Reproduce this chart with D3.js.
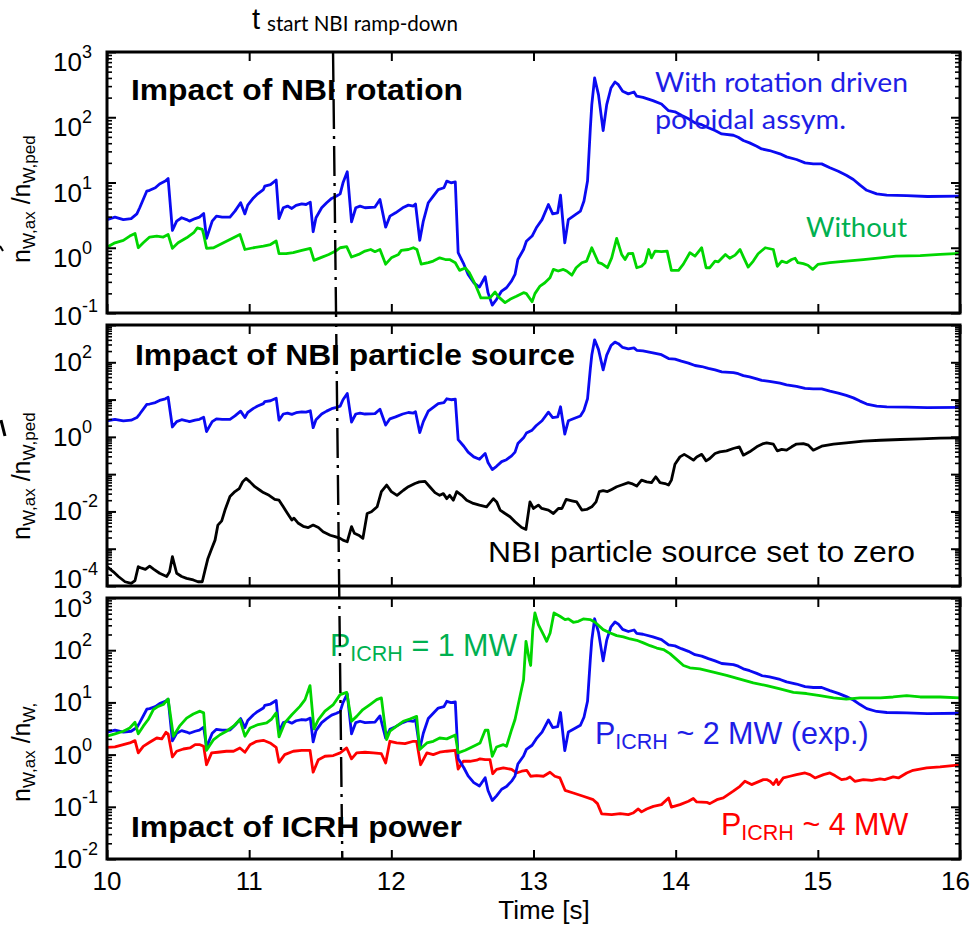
<!DOCTYPE html>
<html><head><meta charset="utf-8">
<script src="https://cdn.jsdelivr.net/npm/d3@7"></script>
<style>body{margin:0;background:#fff} svg{display:block;background:#fff}</style>
</head><body>
<svg id="chart" width="971" height="926"></svg>
<script>
// ---------------- DATA ----------------
const timeTicks = [10, 11, 12, 13, 14, 15, 16];
// experimental case (P_ICRH ~ 2 MW, with rotation driven poloidal asymmetry) - blue in all panels
const seriesExp = [[10.0,2.7],[10.056,2.95],[10.115,2.7],[10.17,2.8],[10.21,3.3],[10.23,4.1],[10.28,7.4],[10.30,7.6],[10.34,8.3],[10.37,9.5],[10.41,10.5],[10.43,11.5],[10.46,1.84],[10.49,2.56],[10.525,2.88],[10.56,2.7],[10.58,2.56],[10.62,2.8],[10.65,2.95],[10.68,3.35],[10.70,1.39],[10.74,2.56],[10.77,3.05],[10.81,2.95],[10.865,2.95],[10.90,3.64],[10.94,4.9],[10.97,3.3],[10.99,4.5],[11.03,5.8],[11.06,6.7],[11.10,7.8],[11.11,8.8],[11.15,9.3],[11.19,10.9],[11.21,2.8],[11.24,4.1],[11.27,4.35],[11.30,4.0],[11.33,4.45],[11.37,4.7],[11.40,4.6],[11.43,5.0],[11.45,1.76],[11.47,2.88],[11.51,4.1],[11.545,4.9],[11.58,5.7],[11.615,6.2],[11.64,6.7],[11.66,9.9],[11.69,14.6],[11.72,2.5],[11.75,4.1],[11.78,4.35],[11.815,4.1],[11.885,4.2],[11.92,5.5],[11.96,2.07],[11.99,3.05],[12.03,3.43],[12.08,4.1],[12.12,4.5],[12.155,4.35],[12.17,4.7],[12.20,1.3],[12.225,2.56],[12.26,4.9],[12.295,6.2],[12.33,7.8],[12.37,8.3],[12.39,10.5],[12.42,9.9],[12.45,10.2],[12.47,0.84],[12.51,0.56],[12.54,0.39],[12.58,0.29],[12.62,0.25],[12.66,0.36],[12.68,0.205],[12.71,0.132],[12.74,0.162],[12.776,0.217],[12.81,0.244],[12.846,0.31],[12.87,0.39],[12.89,0.66],[12.93,0.94],[12.95,1.26],[12.99,1.51],[13.02,2.02],[13.06,2.7],[13.105,4.6],[13.135,3.3],[13.17,3.43],[13.19,6.4],[13.22,1.19],[13.245,2.7],[13.28,3.05],[13.33,3.64],[13.355,5.2],[13.38,10.5],[13.40,69],[13.41,156],[13.43,400],[13.457,222],[13.49,62.5],[13.515,156],[13.545,281],[13.573,347],[13.597,316],[13.627,250],[13.667,228],[13.707,244],[13.726,210],[13.77,202],[13.84,180],[13.90,160],[13.95,126],[13.995,121],[14.04,107],[14.09,95],[14.136,82],[14.183,77],[14.23,69],[14.277,62.5],[14.324,55.6],[14.406,53],[14.44,49.4],[14.476,44],[14.52,40.5],[14.57,36],[14.605,32.7],[14.66,30.9],[14.734,27.5],[14.78,24.7],[14.85,22.5],[14.91,20],[14.968,19.3],[15.027,19.3],[15.085,16.8],[15.144,14.9],[15.20,12.9],[15.25,11.1],[15.297,9.1],[15.344,7.6],[15.414,6.7],[15.485,6.4],[15.625,6.3],[15.77,6.1],[16.0,6.2]];
// without rotation (panel 1, green)
const seriesNoRot = [[10.0,1.02],[10.056,1.19],[10.115,1.3],[10.16,1.51],[10.197,1.66],[10.22,1.0],[10.255,1.19],[10.30,1.46],[10.35,1.51],[10.396,1.46],[10.43,1.6],[10.46,0.98],[10.50,1.19],[10.56,1.42],[10.61,1.7],[10.635,2.02],[10.67,1.91],[10.68,1.6],[10.70,0.98],[10.75,1.0],[10.795,1.12],[10.865,1.34],[10.935,1.6],[10.97,0.94],[11.03,1.0],[11.10,1.06],[11.15,1.12],[11.19,1.27],[11.21,0.81],[11.26,0.81],[11.31,0.84],[11.37,0.91],[11.43,0.98],[11.456,0.64],[11.50,0.70],[11.56,0.79],[11.615,0.91],[11.64,1.0],[11.686,1.04],[11.72,0.72],[11.77,0.79],[11.815,0.89],[11.855,0.94],[11.885,0.87],[11.92,0.94],[11.96,0.56],[12.0,0.70],[12.05,0.79],[12.07,0.91],[12.12,0.94],[12.155,1.0],[12.18,0.94],[12.21,0.56],[12.26,0.59],[12.295,0.625],[12.34,0.70],[12.38,0.66],[12.41,0.66],[12.45,0.59],[12.48,0.45],[12.52,0.49],[12.55,0.41],[12.59,0.275],[12.63,0.17],[12.66,0.17],[12.694,0.17],[12.73,0.21],[12.75,0.18],[12.80,0.144],[12.835,0.162],[12.88,0.18],[12.93,0.205],[12.95,0.198],[12.99,0.149],[13.01,0.198],[13.046,0.259],[13.08,0.291],[13.116,0.347],[13.14,0.466],[13.174,0.44],[13.21,0.466],[13.233,0.44],[13.27,0.38],[13.30,0.494],[13.34,0.59],[13.374,0.625],[13.41,1.0],[13.457,0.59],[13.48,0.57],[13.52,0.494],[13.55,0.70],[13.585,1.39],[13.62,0.79],[13.644,0.66],[13.667,0.81],[13.698,0.82],[13.726,0.494],[13.76,0.52],[13.785,0.59],[13.81,0.94],[13.83,0.70],[13.855,0.89],[13.90,0.87],[13.94,0.89],[13.97,0.45],[14.02,0.45],[14.054,0.56],[14.10,0.84],[14.136,0.745],[14.183,1.0],[14.214,0.494],[14.24,0.494],[14.277,0.625],[14.30,0.61],[14.35,0.79],[14.38,0.69],[14.418,0.77],[14.453,0.94],[14.477,0.72],[14.51,0.506],[14.546,0.625],[14.58,0.81],[14.63,1.0],[14.687,0.94],[14.715,0.52],[14.746,0.625],[14.78,0.59],[14.816,0.66],[14.84,0.69],[14.86,0.59],[14.898,0.57],[14.93,0.54],[14.964,0.466],[15.0,0.555],[15.085,0.59],[15.2,0.625],[15.32,0.66],[15.44,0.70],[15.55,0.745],[15.72,0.76],[15.86,0.79],[16.0,0.82]];
// NBI particle source set to zero (panel 2, black)
const seriesNoSrc = [[10.0,3.3e-4],[10.045,2.4e-4],[10.08,1.8e-4],[10.127,1.3e-4],[10.17,1.17e-4],[10.197,1.4e-4],[10.22,3.3e-4],[10.244,3.0e-4],[10.27,2.8e-4],[10.30,3.4e-4],[10.33,2.8e-4],[10.37,2.2e-4],[10.42,1.8e-4],[10.44,2.4e-4],[10.46,6.1e-4],[10.49,2.2e-4],[10.525,1.8e-4],[10.56,1.6e-4],[10.607,1.45e-4],[10.64,1.3e-4],[10.67,1.3e-4],[10.69,2.7e-4],[10.71,5.5e-4],[10.736,1.0e-3],[10.76,1.7e-3],[10.78,4.3e-3],[10.807,5.6e-3],[10.83,1.09e-2],[10.865,2.5e-2],[10.90,3.4e-2],[10.93,4.1e-2],[10.954,6.2e-2],[10.978,7.7e-2],[11.006,6.2e-2],[11.04,4.6e-2],[11.076,3.7e-2],[11.10,3.2e-2],[11.14,2.7e-2],[11.18,2.1e-2],[11.21,2.0e-2],[11.24,1.33e-2],[11.27,8.8e-3],[11.30,5.9e-3],[11.315,6.6e-3],[11.346,4.8e-3],[11.38,4.0e-3],[11.416,3.7e-3],[11.45,4.3e-3],[11.487,3.7e-3],[11.52,2.85e-3],[11.57,2.3e-3],[11.604,2.1e-3],[11.64,1.9e-3],[11.66,1.7e-3],[11.69,1.54e-3],[11.72,3.9e-3],[11.74,2.6e-3],[11.77,2.3e-3],[11.80,1.9e-3],[11.83,8.8e-3],[11.86,9.8e-3],[11.90,1.33e-2],[11.93,3.4e-2],[11.967,5.1e-2],[12.0,3.4e-2],[12.04,2.7e-2],[12.085,3.7e-2],[12.12,4.6e-2],[12.166,5.6e-2],[12.197,6.2e-2],[12.237,6.4e-2],[12.27,4.6e-2],[12.307,3.2e-2],[12.34,2.7e-2],[12.366,3.0e-2],[12.39,2.2e-2],[12.41,2.7e-2],[12.436,2.0e-2],[12.46,3.4e-2],[12.495,2.7e-2],[12.53,2.0e-2],[12.577,1.64e-2],[12.62,1.48e-2],[12.67,1.33e-2],[12.718,2.2e-2],[12.741,1.8e-2],[12.765,1.09e-2],[12.80,8.8e-3],[12.835,7.2e-3],[12.87,5.3e-3],[12.917,3.7e-3],[12.947,3.3e-3],[12.975,1.8e-2],[13.0,1.2e-2],[13.034,1.48e-2],[13.058,1.2e-2],[13.105,1.09e-2],[13.14,8.8e-3],[13.175,1.2e-2],[13.2,1.2e-2],[13.23,2.1e-2],[13.27,1.93e-2],[13.304,1.8e-2],[13.34,1.09e-2],[13.374,1.13e-2],[13.41,1.33e-2],[13.44,1.8e-2],[13.463,3.4e-2],[13.49,3.6e-2],[13.52,3.4e-2],[13.55,3.9e-2],[13.585,4.6e-2],[13.62,5.1e-2],[13.667,5.9e-2],[13.69,5.6e-2],[13.726,4.8e-2],[13.76,6.9e-2],[13.796,6.2e-2],[13.83,5.9e-2],[13.86,8.5e-2],[13.89,5.9e-2],[13.925,5.6e-2],[13.95,5.1e-2],[13.97,6.9e-2],[13.995,0.185],[14.03,0.29],[14.06,0.34],[14.09,0.29],[14.125,0.237],[14.148,0.29],[14.183,0.34],[14.214,0.227],[14.24,0.263],[14.277,0.358],[14.31,0.396],[14.358,0.42],[14.405,0.487],[14.448,0.54],[14.476,0.323],[14.52,0.396],[14.57,0.54],[14.617,0.66],[14.64,0.69],[14.687,0.64],[14.715,0.42],[14.746,0.46],[14.78,0.44],[14.816,0.54],[14.85,0.64],[14.898,0.66],[14.933,0.6],[14.968,0.44],[15.027,0.56],[15.11,0.64],[15.2,0.69],[15.32,0.77],[15.44,0.81],[15.58,0.85],[15.72,0.88],[15.86,0.92],[16.0,0.94]];
// P_ICRH = 1 MW (panel 3, green)
const seriesP1 = [[10.0,2.25],[10.056,2.5],[10.115,2.8],[10.16,3.24],[10.197,4.16],[10.22,2.5],[10.255,3.5],[10.29,4.7],[10.326,7.3],[10.36,8.4],[10.396,9.1],[10.43,11.6],[10.467,2.25],[10.51,3.5],[10.56,5.0],[10.607,6.0],[10.654,6.8],[10.68,6.3],[10.70,1.21],[10.75,1.94],[10.795,2.4],[10.84,2.8],[10.89,3.5],[10.935,4.7],[10.97,2.25],[11.006,3.24],[11.064,3.76],[11.123,4.04],[11.158,4.8],[11.19,6.3],[11.21,2.18],[11.25,4.04],[11.30,5.8],[11.357,8.4],[11.393,11.3],[11.428,21],[11.456,3.1],[11.487,4.7],[11.533,6.8],[11.592,9.1],[11.64,14.1],[11.686,15.6],[11.72,4.35],[11.756,5.4],[11.80,7.3],[11.85,9.1],[11.897,11.3],[11.93,12.2],[11.967,1.94],[11.99,2.8],[12.037,3.5],[12.084,4.35],[12.13,4.8],[12.178,5.4],[12.20,1.25],[12.25,1.67],[12.295,1.8],[12.34,2.08],[12.39,2.0],[12.45,2.38],[12.47,1.08],[12.52,1.21],[12.553,1.34],[12.60,1.55],[12.624,1.67],[12.66,2.93],[12.68,2.93],[12.71,0.93],[12.74,1.4],[12.788,1.55],[12.81,1.44],[12.846,3.0],[12.87,4.7],[12.905,13.1],[12.93,27],[12.947,148],[12.97,66],[12.98,51],[12.995,248],[13.01,517],[13.034,309],[13.07,199],[13.093,148],[13.117,214],[13.144,517],[13.186,447],[13.222,386],[13.245,397],[13.28,343],[13.316,358],[13.35,397],[13.398,386],[13.433,343],[13.49,248],[13.54,214],[13.585,190],[13.632,180],[13.68,164],[13.726,155],[13.773,138],[13.82,122],[13.867,110],[13.914,103],[13.96,86],[14.008,66],[14.055,51],[14.10,46],[14.17,44],[14.265,38],[14.358,33],[14.452,28],[14.546,23.6],[14.64,21],[14.734,18.1],[14.828,15.6],[14.92,14.8],[15.015,13.5],[15.11,12.2],[15.2,11.6],[15.297,12.2],[15.44,12.2],[15.53,12.7],[15.625,13.5],[15.72,12.7],[15.86,12.7],[16.0,12.2]];
// P_ICRH ~ 4 MW (panel 3, red)
const seriesP4 = [[10.0,1.38],[10.056,1.4],[10.115,1.55],[10.16,1.67],[10.197,1.85],[10.22,1.08],[10.255,1.44],[10.30,1.72],[10.35,2.08],[10.385,2.0],[10.415,2.68],[10.43,2.5],[10.46,0.90],[10.49,1.16],[10.537,1.28],[10.584,1.34],[10.62,1.55],[10.654,1.55],[10.68,1.44],[10.70,0.64],[10.736,1.08],[10.78,1.11],[10.84,1.16],[10.89,1.16],[10.935,1.34],[10.97,1.11],[11.006,1.55],[11.053,1.8],[11.10,1.88],[11.147,1.67],[11.19,1.38],[11.21,0.71],[11.25,1.0],[11.31,1.16],[11.37,1.21],[11.428,1.21],[11.45,0.46],[11.487,0.80],[11.533,0.93],[11.592,0.96],[11.64,1.08],[11.686,1.34],[11.72,0.83],[11.756,1.08],[11.815,1.11],[11.873,1.08],[11.93,1.04],[11.96,0.69],[11.99,1.8],[12.037,1.67],[12.096,1.62],[12.155,1.8],[12.178,1.8],[12.206,0.64],[12.25,1.08],[12.295,1.0],[12.34,1.11],[12.39,1.16],[12.45,1.21],[12.47,0.53],[12.506,0.745],[12.553,0.745],[12.60,0.78],[12.624,0.83],[12.66,0.80],[12.694,0.80],[12.713,0.43],[12.74,0.52],[12.788,0.556],[12.846,0.52],[12.88,0.445],[12.917,0.48],[12.952,0.50],[12.98,0.385],[13.022,0.396],[13.07,0.385],[13.116,0.46],[13.15,0.385],[13.186,0.357],[13.222,0.207],[13.28,0.184],[13.35,0.159],[13.42,0.137],[13.45,0.115],[13.48,0.073],[13.55,0.071],[13.61,0.074],[13.667,0.071],[13.70,0.076],[13.737,0.091],[13.76,0.08],[13.796,0.091],[13.843,0.102],[13.90,0.11],[13.95,0.148],[13.97,0.099],[14.03,0.11],[14.09,0.128],[14.124,0.144],[14.148,0.124],[14.218,0.122],[14.24,0.115],[14.29,0.137],[14.335,0.148],[14.405,0.199],[14.452,0.247],[14.487,0.308],[14.534,0.266],[14.58,0.30],[14.617,0.332],[14.64,0.332],[14.664,0.308],[14.687,0.266],[14.71,0.332],[14.722,0.266],[14.757,0.357],[14.804,0.385],[14.85,0.414],[14.91,0.445],[14.945,0.414],[14.98,0.357],[15.04,0.414],[15.085,0.445],[15.12,0.396],[15.167,0.332],[15.2,0.342],[15.226,0.373],[15.26,0.308],[15.32,0.332],[15.38,0.322],[15.437,0.342],[15.47,0.332],[15.53,0.373],[15.567,0.357],[15.625,0.445],[15.67,0.50],[15.766,0.556],[15.86,0.58],[16.0,0.634]];
const rampDownTimes = [11.59, 11.655];      // t_start NBI ramp-down marker (top, bottom)
const panel1Exponents = [-1, 0, 1, 2, 3];
const panel2Exponents = [-4, -2, 0, 2];
const panel3Exponents = [-2, -1, 0, 1, 2, 3];
const yLabelSubs = [["W,ax", "W,ped"], ["W,ax", "W,ped"], ["W,ax", "W,"]];

// ---------------- STYLE / LAYOUT ----------------
const W = 971;
const ARIAL = "'Liberation Sans', Arial, sans-serif";
const CALI = "Lato, 'Open Sans', sans-serif";
const C = {blue: "#0a0af2", green: "#00d600", red: "#ff0000", black: "#000",
           tBlue: "#1e1ee6", tGreen: "#00b050", tRed: "#ff0000"};
const svg = d3.select("#chart");
const x = d3.scaleLinear().domain([10, 16]).range([107, 960]);
const panels = [
  {top: 52,  bottom: 313, dom: [1e-1, 1e3], exps: panel1Exponents, shift: 10, cTop: 4,  cBot: -3, lab: 263,
   series: [{d: seriesExp, c: C.blue}, {d: seriesNoRot, c: C.green}]},
  {top: 325, bottom: 586, dom: [1e-4, 1e3], exps: panel2Exponents, shift: 0, cTop: 4, cBot: 7, lab: 540,
   series: [{d: seriesNoSrc, c: C.black}, {d: seriesExp, c: C.blue}]},
  {top: 598, bottom: 859, dom: [1e-2, 1e3], exps: panel3Exponents, shift: 0, cTop: 10, cBot: 0, lab: 802,
   series: [{d: seriesP4, c: C.red}, {d: seriesExp, c: C.blue}, {d: seriesP1, c: C.green}]}
];

panels.forEach((p, i) => {
  p.y = d3.scaleLog().domain(p.dom).range([p.bottom, p.top]);
  const lo = Math.round(Math.log10(p.dom[0])), hi = Math.round(Math.log10(p.dom[1]));
  const majors = d3.range(lo, hi + 1).map(e => Math.pow(10, e));
  const minors = [];
  d3.range(lo, hi).forEach(e => { for (let m = 2; m <= 9; m++) minors.push(m * Math.pow(10, e)); });

  // clip + data lines
  svg.append("clipPath").attr("id", "clip" + i).append("rect")
    .attr("x", x.range()[0]).attr("y", p.top).attr("width", x.range()[1] - x.range()[0]).attr("height", p.bottom - p.top);
  const line = d3.line().x(d => x(d[0])).y(d => p.y(d[1]));
  const gl = svg.append("g").attr("clip-path", `url(#clip${i})`);
  p.series.forEach(s => {
    gl.append("path").attr("d", line(s.d)).attr("fill", "none").attr("stroke", s.c)
      .attr("stroke-width", 2.8).attr("stroke-linejoin", "round").attr("stroke-linecap", "round");
  });

  // axes (inward ticks on all four sides)
  const ax = (gen, tr, vals, size, sw) => {
    svg.append("g").attr("transform", tr)
      .call(gen.tickValues(vals).tickSize(-size).tickSizeOuter(0).tickFormat(() => ""))
      .call(g => g.select(".domain").remove())
      .call(g => g.selectAll("line").attr("stroke", "#000").attr("stroke-width", sw));
  };
  ax(d3.axisLeft(p.y), `translate(${x.range()[0]},0)`, majors, 9, 2);
  ax(d3.axisLeft(p.y), `translate(${x.range()[0]},0)`, minors, 5, 1.6);
  ax(d3.axisRight(p.y), `translate(${x.range()[1]},0)`, majors, 9, 2);
  ax(d3.axisRight(p.y), `translate(${x.range()[1]},0)`, minors, 5, 1.6);
  ax(d3.axisTop(x), `translate(0,${p.top})`, timeTicks, 9, 2);
  ax(d3.axisBottom(x), `translate(0,${p.bottom})`, timeTicks, 9, 2);

  // frame
  svg.append("rect").attr("x", x.range()[0]).attr("y", p.top)
    .attr("width", x.range()[1] - x.range()[0]).attr("height", p.bottom - p.top)
    .attr("fill", "none").attr("stroke", "#000").attr("stroke-width", 3);

  // y tick labels 10^n
  p.exps.forEach(e => {
    let cy = p.y(Math.pow(10, e)) + p.shift;
    cy = Math.max(p.top + p.cTop, Math.min(p.bottom - p.cBot, cy));
    const t = svg.append("text").attr("x", 53).attr("y", cy + 9)
      .attr("font-family", ARIAL).attr("font-size", 26).attr("fill", "#000");
    t.append("tspan").text("10");
    t.append("tspan").attr("dy", -13).attr("font-size", 18).text(e < 0 ? "-" + (-e) : String(e));
  });

  // y axis label (rotated)
  const yl = svg.append("text").attr("transform", `translate(30,${p.lab}) rotate(-90)`)
    .attr("font-family", ARIAL).attr("font-size", 25).attr("fill", "#000");
  yl.append("tspan").text("n");
  yl.append("tspan").attr("dy", 5).attr("font-size", 17).text(yLabelSubs[i][0]);
  yl.append("tspan").attr("dy", -5).text(" /n");
  yl.append("tspan").attr("dy", 5).attr("font-size", 17).text(yLabelSubs[i][1]);
});

// x tick labels & title (last label kept inside the page)
const pb = panels[2];
timeTicks.forEach(t => {
  const xt = svg.append("text").attr("y", pb.bottom + 31)
    .attr("font-family", ARIAL).attr("font-size", 26).text(t);
  const w = xt.node().getComputedTextLength();
  const cx = Math.min(x(t), W - 1 - w / 2);
  xt.attr("x", cx).attr("text-anchor", "middle");
});
svg.append("text").attr("x", 544).attr("y", 919).attr("text-anchor", "middle")
  .attr("font-family", ARIAL).attr("font-size", 26).text("Time [s]");

// annotations
function txt(str, xx, yy, opt) {
  const t = svg.append("text").attr("x", xx).attr("y", yy)
    .attr("font-family", opt.f || ARIAL).attr("font-size", opt.s).attr("fill", opt.c || "#000")
    .attr("font-weight", opt.w || "normal").text(str);
  if (opt.len) t.attr("textLength", opt.len).attr("lengthAdjust", "spacingAndGlyphs");
  return t;
}
txt("Impact of NBI rotation", 131, 100, {s: 29, w: "bold", len: 332});
txt("Impact of NBI particle source", 135, 365, {s: 29, w: "bold", len: 440});
txt("Impact of ICRH power", 131, 837, {s: 29, w: "bold", len: 331});
txt("With rotation driven", 655, 92, {f: CALI, s: 27, c: C.tBlue, len: 253});
txt("poloidal assym.", 655, 129, {f: CALI, s: 27, c: C.tBlue, len: 191});
txt("Without", 806, 237, {f: CALI, s: 27, c: C.tGreen, len: 101});
txt("NBI particle source set to zero", 488, 562, {s: 30, len: 427});
txt("t", 252, 29, {s: 29});
txt("start NBI ramp-down", 267, 31, {f: CALI, s: 22, len: 191});

function ptext(rest, xx, yy, col) {
  const t = svg.append("text").attr("x", xx).attr("y", yy).attr("font-family", ARIAL)
    .attr("font-size", 30.5).attr("fill", col);
  t.append("tspan").text("P");
  t.append("tspan").attr("dy", 5).attr("font-size", 21.5).text("ICRH");
  t.append("tspan").attr("dy", -5).text(rest);
}
ptext(" = 1 MW", 330, 656, C.tGreen);
ptext(" ~ 2 MW (exp.)", 595, 744, C.tBlue);
ptext(" ~ 4 MW", 721, 835, C.tRed);

// t_start NBI ramp-down marker (dash-dot)
svg.append("line")
  .attr("x1", x(rampDownTimes[0])).attr("y1", panels[0].y(panels[0].dom[1]))
  .attr("x2", x(rampDownTimes[1])).attr("y2", panels[2].y(panels[2].dom[0]))
  .attr("stroke", "#000").attr("stroke-width", 2.4).attr("stroke-dasharray", "30,7,3,7");

// cropped edge remnants at the left border
svg.append("path").attr("d", "M0,246 L3,251").attr("stroke", "#000").attr("stroke-width", 2);
svg.append("path").attr("d", "M1,420 L5,436").attr("stroke", "#000").attr("stroke-width", 3);
</script>
</body></html>
